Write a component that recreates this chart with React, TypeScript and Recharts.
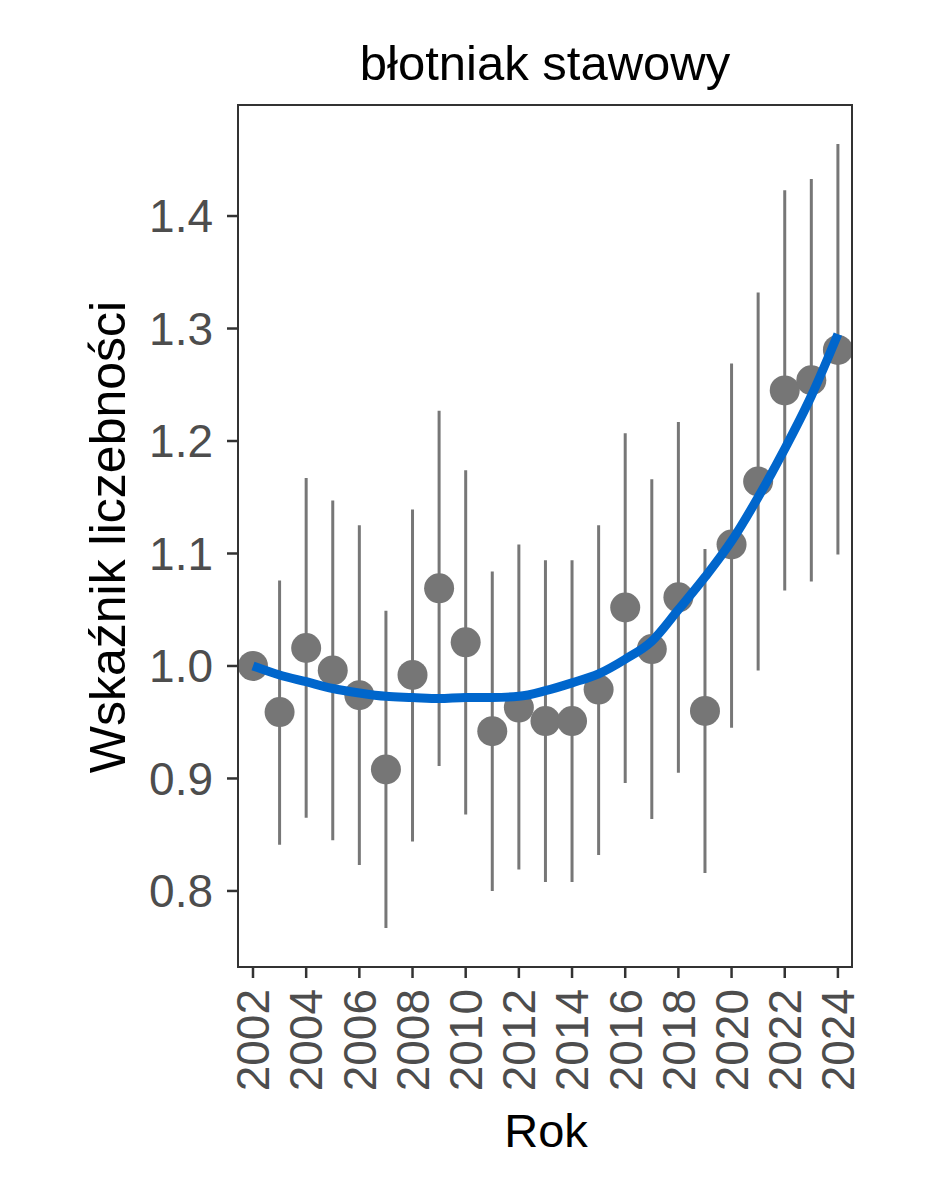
import React from "react";
import {
  ComposedChart,
  Line,
  ErrorBar,
  XAxis,
  YAxis,
  ReferenceArea,
} from "recharts";

const years = [
  2002, 2003, 2004, 2005, 2006, 2007, 2008, 2009, 2010, 2011, 2012, 2013,
  2014, 2015, 2016, 2017, 2018, 2019, 2020, 2021, 2022, 2023, 2024,
];
const index = [
  1.0, 0.959, 1.016, 0.996, 0.974, 0.908, 0.992, 1.069, 1.021, 0.942, 0.963,
  0.951, 0.951, 0.979, 1.052, 1.015, 1.061, 0.96, 1.108, 1.164, 1.245, 1.254,
  1.281,
];
const lower = [
  1.0, 0.841, 0.865, 0.845, 0.823, 0.767, 0.844, 0.911, 0.868, 0.8, 0.819,
  0.808, 0.808, 0.832, 0.896, 0.864, 0.905, 0.816, 0.945, 0.996, 1.067, 1.075,
  1.099,
];
const upper = [
  1.0, 1.076, 1.167, 1.147, 1.125, 1.049, 1.139, 1.227, 1.174, 1.084, 1.108,
  1.094, 1.094, 1.125, 1.207, 1.166, 1.217, 1.104, 1.269, 1.332, 1.423, 1.433,
  1.464,
];
const trend = [
  1.0, 0.992, 0.986, 0.98, 0.976, 0.973, 0.972, 0.971, 0.972, 0.972, 0.973,
  0.978, 0.985, 0.993, 1.006, 1.022, 1.05, 1.079, 1.111, 1.15, 1.193, 1.24,
  1.295,
];
const xTicks = [2002, 2004, 2006, 2008, 2010, 2012, 2014, 2016, 2018, 2020, 2022, 2024];
const yTicks = [0.8, 0.9, 1.0, 1.1, 1.2, 1.3, 1.4];

const data = years.map((year, i) => ({
  year,
  value: index[i],
  err: [index[i] - lower[i], upper[i] - index[i]],
  trend: trend[i],
}));

const FONT = '"Liberation Sans", Arial, sans-serif';
const X_DOMAIN: [number, number] = [2001.436, 2024.53];
const Y_DOMAIN: [number, number] = [0.7324, 1.4987];

function YearTick(props: any) {
  const { x, y, payload } = props;
  return (
    <text
      x={x}
      y={y}
      transform={`rotate(-90, ${x}, ${y})`}
      textAnchor="end"
      dy="0.355em"
      fontSize={46}
      fontFamily={FONT}
      fill="#4D4D4D"
    >
      {payload.value}
    </text>
  );
}

export default function App() {
  return (
    <div style={{ position: "absolute", left: 0, top: 0, width: 944, height: 1181, background: "#fff" }}>
      <ComposedChart
        width={944}
        height={1181}
        data={data}
        margin={{ top: 105, right: 92, bottom: 94, left: 138 }}
      >
        <XAxis
          dataKey="year"
          type="number"
          domain={X_DOMAIN}
          ticks={xTicks}
          allowDataOverflow
          height={120}
          axisLine={false}
          tickSize={11}
          tickMargin={11}
          tickLine={{ stroke: "#333333", strokeWidth: 2.5 }}
          tick={<YearTick />}
          interval={0}
        />
        <YAxis
          type="number"
          domain={Y_DOMAIN}
          ticks={yTicks}
          allowDataOverflow
          width={100}
          axisLine={false}
          tickSize={11}
          tickMargin={14}
          tickLine={{ stroke: "#333333", strokeWidth: 2.5 }}
          tick={{ fontSize: 46, fontFamily: FONT, fill: "#4D4D4D" }}
          tickFormatter={(v: number) => v.toFixed(1)}
          interval={0}
        />
        <Line
          dataKey="value"
          stroke="none"
          isAnimationActive={false}
          dot={{ r: 15, fill: "#767676", stroke: "none" }}
          activeDot={false}
        >
          <ErrorBar dataKey="err" width={0} stroke="#777777" strokeWidth={3} direction="y" />
        </Line>
        <Line
          dataKey="trend"
          type="monotone"
          stroke="#0066CC"
          strokeWidth={9}
          dot={false}
          activeDot={false}
          isAnimationActive={false}
          {...({ zIndex: 1000 } as any)}
        />
        <ReferenceArea
          x1={X_DOMAIN[0]}
          x2={X_DOMAIN[1]}
          y1={Y_DOMAIN[0]}
          y2={Y_DOMAIN[1]}
          fill="none"
          stroke="#333333"
          strokeWidth={2}
          ifOverflow="visible"
          {...({ zIndex: 1100 } as any)}
        />
      </ComposedChart>
      <svg
        width={944}
        height={1181}
        style={{ position: "absolute", left: 0, top: 0, pointerEvents: "none" }}
      >
        <text x={545} y={80} textAnchor="middle" fontSize={49} fontFamily={FONT} fill="#000">
          błotniak stawowy
        </text>
        <text x={546} y={1147} textAnchor="middle" fontSize={47} fontFamily={FONT} fill="#000">
          Rok
        </text>
        <text
          x={125}
          y={537}
          transform="rotate(-90, 125, 537)"
          textAnchor="middle"
          fontSize={50}
          fontFamily={FONT}
          fill="#000"
        >
          Wskaźnik liczebności
        </text>
      </svg>
    </div>
  );
}
